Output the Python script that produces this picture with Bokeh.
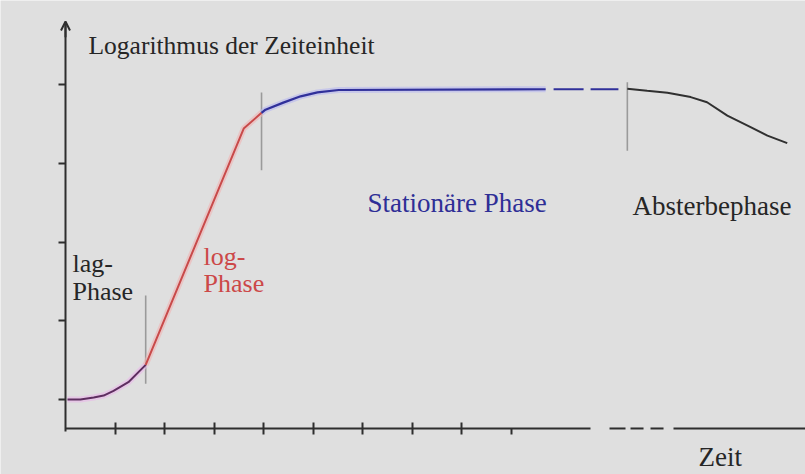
from bokeh.plotting import figure
from bokeh.models import (Range1d, LinearAxis, FixedTicker, Arrow, OpenHead,
                          ColumnDataSource, CustomJSTickFormatter)
from bokeh.core.properties import value
from bokeh.embed import file_html
from bokeh.resources import INLINE

# ---- data (time units on x, log of cell count on y) ----
time_ticks = [1, 2, 3, 4, 5, 6, 7, 8]
time_tick_half = [9]
log_ticks = [1, 2, 3, 4, 5]

lag_t = [0.04, 0.30, 0.57, 0.77, 0.97, 1.27, 1.62]
lag_y = [1.00, 1.00, 1.025, 1.05, 1.11, 1.22, 1.44]

log_t = [1.62, 3.60, 3.96]
log_y = [1.44, 4.44, 4.64]

stat_t = [3.96, 4.04, 4.40, 4.75, 5.09, 5.52, 9.70]
stat_y = [4.64, 4.68, 4.77, 4.85, 4.90, 4.93, 4.94]
stat_dash_t = [9.86, 11.17]
stat_dash_y = [4.94, 4.94]

death_t = [11.35, 11.75, 12.16, 12.63, 12.96, 13.37, 13.84, 14.18, 14.58]
death_y = [4.945, 4.92, 4.895, 4.84, 4.775, 4.605, 4.46, 4.35, 4.255]

# phase boundary markers
bound_t = [1.62, 3.96, 11.35]
bound_y0 = [1.20, 3.91, 4.16]
bound_y1 = [2.32, 4.90, 5.03]

# broken part of the time axis
axis_gap_x0 = [10.99, 11.414, 11.818]
axis_gap_x1 = [11.313, 11.677, 12.081]

labels = ["Logarithmus der Zeiteinheit", "lag-", "Phase", "log-", "Phase",
          "Stationäre Phase", "Absterbephase", "Zeit"]
label_t = [0.465, 0.141, 0.141, 2.788, 2.788, 6.101, 11.455, 12.788]
label_y = [5.495, 2.727, 2.371, 2.816, 2.473, 3.489, 3.451, 0.274]
label_c = ["#262626", "#262626", "#262626", "#cc4848", "#cc4848",
           "#2e2e96", "#262626", "#262626"]
label_s = ["25.5px", "26px", "26px", "26px", "26px", "27px", "27px", "27px"]

# ---- styling ----
BG = "#dfdfdf"
AX = "#2e2e2e"
FONT = value("Liberation Serif")

p = figure(width=805, height=474, x_range=Range1d(-1.3131, 14.949),
           y_range=Range1d(0.0476, 6.0667), output_backend="svg",
           toolbar_location=None, min_border=0, x_axis_type=None, y_axis_type=None,
           background_fill_color=BG, border_fill_color=BG, outline_line_color=None)

x_origin = 0.632   # y-value where the time axis sits
y_origin = 0.0     # x-value where the log axis sits

blank = CustomJSTickFormatter(code="return ''")


def style_axis(ax):
    ax.formatter = blank
    ax.minor_tick_line_color = None
    ax.axis_line_color = AX
    ax.axis_line_width = 2
    ax.major_tick_line_color = AX
    ax.major_tick_line_width = 2
    return ax


xa = style_axis(LinearAxis(fixed_location=x_origin, ticker=FixedTicker(ticks=time_ticks),
                           bounds=(0, 10.606)))
xa.major_tick_in = 6
xa.major_tick_out = 6
p.add_layout(xa, "below")

xb = style_axis(LinearAxis(fixed_location=x_origin, ticker=FixedTicker(ticks=time_tick_half)))
xb.axis_line_color = None
xb.major_tick_in = 0
xb.major_tick_out = 6
p.add_layout(xb, "below")

xc = style_axis(LinearAxis(fixed_location=x_origin, ticker=FixedTicker(ticks=[]),
                           bounds=(12.283, 14.949)))
p.add_layout(xc, "below")

p.segment(x0=axis_gap_x0, y0=[x_origin] * 3, x1=axis_gap_x1, y1=[x_origin] * 3,
          line_color=AX, line_width=2)

ya = style_axis(LinearAxis(fixed_location=y_origin, ticker=FixedTicker(ticks=log_ticks),
                           bounds=(0.59, 5.78)))
ya.major_tick_in = 0
ya.major_tick_out = 7
p.add_layout(ya, "left")

p.add_layout(Arrow(x_start=0, y_start=5.6, x_end=0, y_end=5.8,
                   end=OpenHead(size=9, line_color=AX, line_width=2),
                   line_color=AX, line_width=2))

# boundary markers
p.segment(x0=bound_t, y0=bound_y0, x1=bound_t, y1=bound_y1, line_color="#9a9a9a", line_width=1.6)

# halos
p.line(lag_t, lag_y, line_color="#e9b8e9", line_width=6, line_alpha=0.6)
p.line(log_t, log_y, line_color="#f0b4b4", line_width=6, line_alpha=0.6)
p.line(stat_t, stat_y, line_color="#b8b8f0", line_width=6, line_alpha=0.6)

# growth curve
p.line(lag_t, lag_y, line_color="#5e2e60", line_width=2)
p.line(log_t, log_y, line_color="#c84a4a", line_width=2)
p.line(stat_t, stat_y, line_color="#30309a", line_width=2.2)
p.line(stat_dash_t, stat_dash_y, line_color="#30309a", line_width=2.2, line_dash="30 7")
p.line(death_t, death_y, line_color="#303030", line_width=2)

src = ColumnDataSource(dict(x=label_t, y=label_y, text=labels, color=label_c, size=label_s))
p.text(x="x", y="y", text="text", text_color="color", text_font_size="size", source=src,
       text_font=FONT, text_baseline="alphabetic", text_align="left")

open("out.html", "w").write(file_html(p, INLINE))
